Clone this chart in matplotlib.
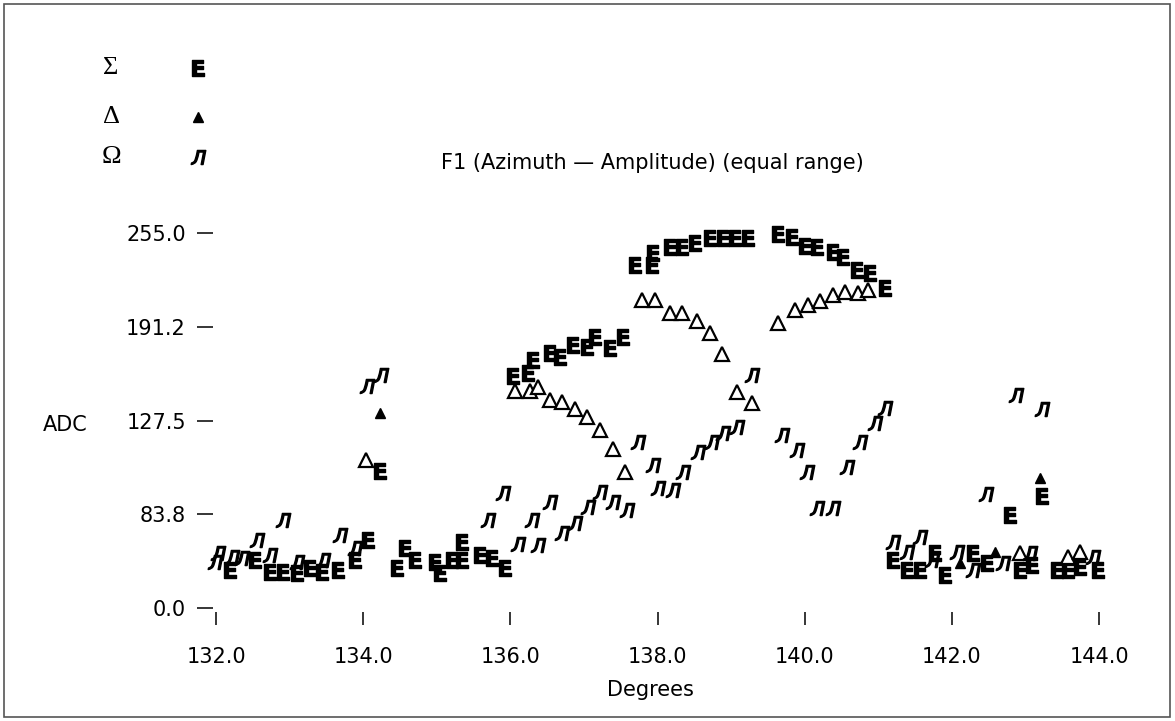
import matplotlib
matplotlib.use("Agg")
import matplotlib.pyplot as plt
from matplotlib.lines import Line2D
from matplotlib.patches import Rectangle

# Sigma series (boxed "E" glyph)
sigma_deg = [132.19, 132.53, 132.73, 132.91, 133.10, 133.28, 133.44, 133.66, 133.89, 134.07,
             134.23, 134.46, 134.57, 134.70, 134.98, 135.04, 135.21, 135.34, 135.34, 135.59,
             135.75, 135.93,
             136.04, 136.24, 136.31, 136.54, 136.67, 136.85, 137.04, 137.15, 137.35, 137.53,
             137.69, 137.92, 137.94, 138.17, 138.33, 138.51, 138.71, 138.89, 139.05, 139.23,
             139.64, 139.83, 140.00, 140.17, 140.38, 140.52, 140.71, 140.89, 141.09,
             141.20, 141.39, 141.57, 141.77, 141.91, 142.29, 142.48, 142.79, 142.92, 143.09,
             143.22, 143.43, 143.58, 143.74, 143.98]
sigma_adc = [25.8, 32.6, 24.5, 24.5, 23.8, 27.2, 24.5, 25.8, 32.6, 46.2,
             93.2, 27.2, 40.8, 32.6, 31.3, 23.8, 32.6, 44.9, 32.6, 36.0,
             34.0, 27.2,
             157.8, 159.8, 168.6, 173.4, 170.7, 178.8, 177.5, 184.3, 176.8, 184.3,
             233.2, 233.2, 241.4, 245.5, 245.5, 248.2, 251.6, 251.6, 251.6, 251.6,
             254.3, 252.3, 246.2, 245.5, 242.1, 238.7, 229.8, 227.8, 217.6,
             32.6, 25.8, 25.8, 37.4, 22.4, 37.4, 30.6, 63.2, 25.8, 29.2,
             76.2, 25.8, 25.8, 27.9, 25.8]

# Delta series (open triangles)
delta_deg = [134.04, 136.06, 136.27, 136.38, 136.54, 136.70, 136.88, 137.04, 137.22, 137.39,
             137.56, 137.79, 137.96, 138.17, 138.33, 138.54, 138.71, 138.88, 139.08, 139.28,
             139.64, 139.87, 140.04, 140.21, 140.38, 140.55, 140.72, 140.86,
             142.92, 143.58, 143.74]
delta_adc = [100.6, 147.6, 147.6, 150.3, 141.4, 140.1, 135.3, 129.9, 121.0, 108.1,
             92.5, 209.4, 209.4, 200.6, 200.6, 195.2, 187.0, 172.7, 146.9, 139.4,
             193.8, 202.6, 206.0, 208.8, 212.8, 214.9, 214.2, 216.2,
             37.4, 34.7, 38.1]

# Delta series (small filled triangles)
delta_f_deg = [134.23, 142.11, 142.58, 143.20]
delta_f_adc = [132.6, 30.6, 38.1, 88.4]

# Omega series
omega_deg = [131.99, 132.03, 132.22, 132.35, 132.56, 132.73, 132.91, 133.10, 133.45, 133.68,
             133.89, 134.05, 134.24, 135.70, 135.90, 136.10, 136.29, 136.38, 136.54, 136.70,
             136.88, 137.05, 137.22, 137.39, 137.58, 137.73, 137.94, 138.01, 138.21, 138.35,
             138.55, 138.74, 138.89, 139.08, 139.28, 139.69, 139.89, 140.03, 140.17, 140.38,
             140.57, 140.75, 140.95, 141.09, 141.20, 141.39, 141.57, 141.73, 142.07, 142.29,
             142.46, 142.69, 142.87, 143.06, 143.22, 143.92]
omega_adc = [31.3, 37.4, 34.7, 34.0, 46.2, 36.0, 59.8, 31.3, 32.6, 49.6,
             40.8, 151.0, 158.4, 59.8, 78.2, 43.5, 59.8, 42.8, 72.1, 51.0,
             57.8, 68.7, 78.9, 72.1, 66.6, 112.9, 97.2, 81.6, 80.2, 92.5,
             106.1, 112.9, 119.0, 123.1, 158.4, 117.6, 107.4, 92.5, 68.0, 68.0,
             95.9, 112.9, 125.8, 136.0, 44.9, 38.1, 48.3, 32.6, 38.1, 25.8,
             77.5, 30.6, 144.8, 37.4, 135.3, 34.7]

x_ticks = [132.0, 134.0, 136.0, 138.0, 140.0, 142.0, 144.0]
x_labels = ["132.0", "134.0", "136.0", "138.0", "140.0", "142.0", "144.0"]
y_ticks = [0.0, 63.75, 127.5, 191.25, 255.0]
y_labels = ["0.0", "83.8", "127.5", "191.2", "255.0"]

plt.rcParams['font.family'] = ['DejaVu Sans']

fig = plt.figure(figsize=(11.75, 7.21), dpi=100)
ax = fig.add_axes([213 / 1175, 109 / 721, 907 / 1175, 379 / 721])

E_MARK = r'$\mathbf{E}$'
OM_MARK = r'$Л$'

ax.plot(sigma_deg, sigma_adc, ls='none', marker=E_MARK, ms=11.5, color='black', clip_on=False)
ax.plot(delta_deg, delta_adc, ls='none', marker='^', ms=10, mfc='white', mec='black',
        mew=1.6, clip_on=False)
ax.plot(delta_f_deg, delta_f_adc, ls='none', marker='^', ms=7, color='black', clip_on=False)
ax.plot(omega_deg, omega_adc, ls='none', marker=OM_MARK, ms=10.5, color='black', clip_on=False)

ax.set_xlim(131.959, 144.283)
ax.set_ylim(-2.72, 255)
for s in ax.spines.values():
    s.set_visible(False)

ax.set_xticks(x_ticks)
ax.set_xticklabels(x_labels, fontsize=15)
ax.set_yticks(y_ticks)
ax.set_yticklabels(y_labels, fontsize=15)
ax.tick_params(axis='x', direction='out', length=9, width=1.1, pad=16)
ax.tick_params(axis='y', direction='out', length=11.5, width=1.1, pad=8)

fig.text(652 / 1175, 1 - 163 / 721, "F1 (Azimuth \u2014 Amplitude) (equal range)",
         ha='center', va='center', fontsize=15)
fig.text(65 / 1175, 1 - 425 / 721, "ADC", ha='center', va='center', fontsize=15)
fig.text(650 / 1175, 1 - 690 / 721, "Degrees", ha='center', va='center', fontsize=15)

# legend: greek label, then marker glyph
legend_rows = [("\u03a3", E_MARK, 11.5, 'black', 68),
               ("\u0394", '^', 7, 'black', 117),
               ("\u03a9", OM_MARK, 10.5, 'black', 157)]
for lab, mk, ms, col, py in legend_rows:
    yf = 1 - py / 721
    fig.text(111 / 1175, yf, lab, ha='center', va='center', fontsize=19,
             family=['Liberation Serif'])
    fig.add_artist(Line2D([198 / 1175], [yf], marker=mk, ms=ms, color=col, ls='none',
                          transform=fig.transFigure))

fig.add_artist(Rectangle((4 / 1175, 4 / 721), 1166 / 1175, 713 / 721, fill=False,
                         edgecolor='#555555', lw=1.2, transform=fig.transFigure))

fig.savefig("out.png", dpi=100)
